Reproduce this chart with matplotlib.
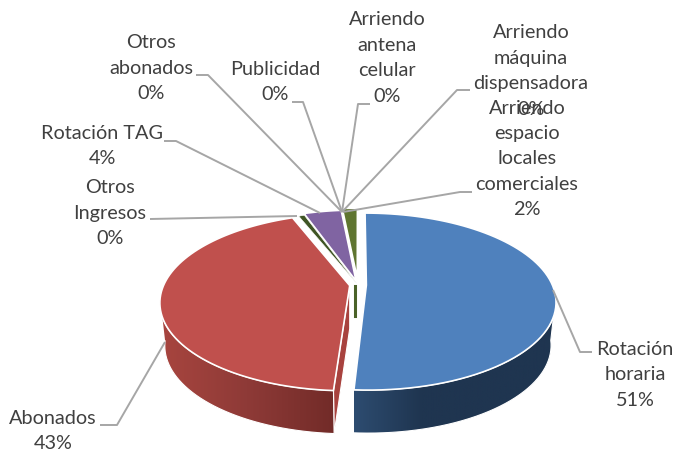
import numpy as np
import matplotlib
matplotlib.use('Agg')
import matplotlib.pyplot as plt
from matplotlib.colors import LinearSegmentedColormap
from matplotlib.patches import Polygon

# values, clockwise from 12 o'clock
names = ['Rotación\nhoraria\n51%', 'Abonados\n43%', 'Otros\nIngresos\n0%', 'Rotación TAG\n4%',
         'Otros\nabonados\n0%', 'Publicidad\n0%', 'Arriendo\nantena\ncelular\n0%',
         'Arriendo\nmáquina\ndispensadora\n0%', 'Arriendo\nespacio\nlocales\ncomerciales\n2%']
shares = [51.0, 43.0, 0.6, 3.85, 0.0, 0.0, 0.0, 0.0, 1.55]
top_colors = ['#4f81bd', '#c0504d', '#3f5524', '#8064a2', '#4bacc6', '#f79646', '#2c4d75', '#772c2a', '#5f7530']
explode = [0.045, 0.045, 0.02, 0.05, 0, 0, 0, 0, 0.08]
label_pos = [(635, 375), (53, 431), (110, 213), (102, 146), (151, 68), (275, 82), (387, 58), (531, 71), (527, 159)]
leaders = [[(553, 290), (580, 352), (592, 352)],
           [(165, 342), (117, 425), (100, 425)],
           [(150, 219), (297, 216)],
           [(164, 141), (176, 141), (320, 213)],
           [(196, 75), (208, 75), (342, 212)],
           [(292, 102), (303, 102), (342, 212)],
           [(342, 212), (358, 104), (370, 104)],
           [(342, 212), (457, 90), (470, 90)],
           [(343, 212), (460, 192), (472, 192)]]

CX, CY = 358, 285
A, K, P = 186, 85.4, 0.186
DEPTH = 43


def project(u, v):
    u, v = np.asarray(u, float), np.asarray(v, float)
    return CX + A * u / (1 + P * v), CY - K * v / (1 + P * v)


def rim(wedge, t1, t2, n=80):
    t = np.radians(np.linspace(t1, t2, n))
    return project(wedge.center[0] + wedge.r * np.cos(t), wedge.center[1] + wedge.r * np.sin(t))


def lower(x, y):
    return CX + 0.975 * (x - CX), y + DEPTH


def shaded_wall(ax, wedge, t1, t2, colors, z):
    x, y = rim(wedge, t1, t2)
    bx, by = lower(x, y)
    pts = np.r_[np.c_[x, y], np.c_[bx, by][::-1]]
    clip = Polygon(pts, closed=True, transform=ax.transData, fc='none', ec='none')
    ax.add_patch(clip)
    cmap = LinearSegmentedColormap.from_list('w', colors)
    im = ax.imshow(np.linspace(0, 1, 256)[None, :], cmap=cmap, aspect='auto', zorder=z,
                   extent=(pts[:, 0].min(), pts[:, 0].max(), pts[:, 1].max(), pts[:, 1].min()))
    im.set_clip_path(clip)
    ax.plot(pts[:, 0], pts[:, 1], color='white', lw=0.8, zorder=z + 0.1)


fig = plt.figure(figsize=(6.76, 4.51), dpi=100)
ax = fig.add_axes([0, 0, 1, 1])
wedges, _ = ax.pie(shares, explode=explode, colors=top_colors, startangle=90, counterclock=False)
for w in wedges:
    w.set_visible(False)
ax.set_aspect('auto')
ax.set_xlim(0, 676)
ax.set_ylim(451, 0)
ax.axis('off')

blue, red, dark = wedges[0], wedges[1], wedges[2]

# inner cut faces
dx, dy = project(*dark.center)
ax.plot([dx - 2, dx - 2], [dy + 3, dy + 33], color='#4a6228', lw=2.2, zorder=1)
ax_, ay_ = project(*red.center)
x0, y0 = rim(red, red.theta2, red.theta2, 1)
bx0, by0 = lower(x0, y0)
ax.add_patch(Polygon([(ax_, ay_), (x0[0], y0[0]), (bx0[0], by0[0]), (ax_, ay_ + DEPTH)],
                     fc='#a8423e', ec='white', lw=0.8, zorder=1.5))

# outer walls, only the part that faces the viewer
shaded_wall(ax, blue, blue.theta1, -8, ['#2d4c70', '#1f3550', '#1f3550', '#1f3550'], 2)
shaded_wall(ax, red, -172, red.theta2, ['#a8453f', '#8e3a37', '#722b28'], 2)

# top faces
for w, c, s in zip(wedges, top_colors, shares):
    if s == 0:
        continue
    x, y = rim(w, w.theta1, w.theta2)
    ax_, ay_ = project(*w.center)
    ax.add_patch(Polygon(np.r_[[(ax_, ay_)], np.c_[x, y]], closed=True, fc=c, ec='white',
                         lw=0.4 if w is dark else 1.2, zorder=3.2 if w is dark else 3))

for seg in leaders:
    xs, ys = zip(*seg)
    ax.plot(xs, ys, color='#a6a6a6', lw=1.4, zorder=4, solid_capstyle='butt')

for name, (px, py) in zip(names, label_pos):
    ax.text(px, py, name, ha='center', va='center', fontsize=14.3, family='Lato',
            color='#404040', linespacing=1.6, zorder=5)

fig.savefig('out.png', dpi=100)
